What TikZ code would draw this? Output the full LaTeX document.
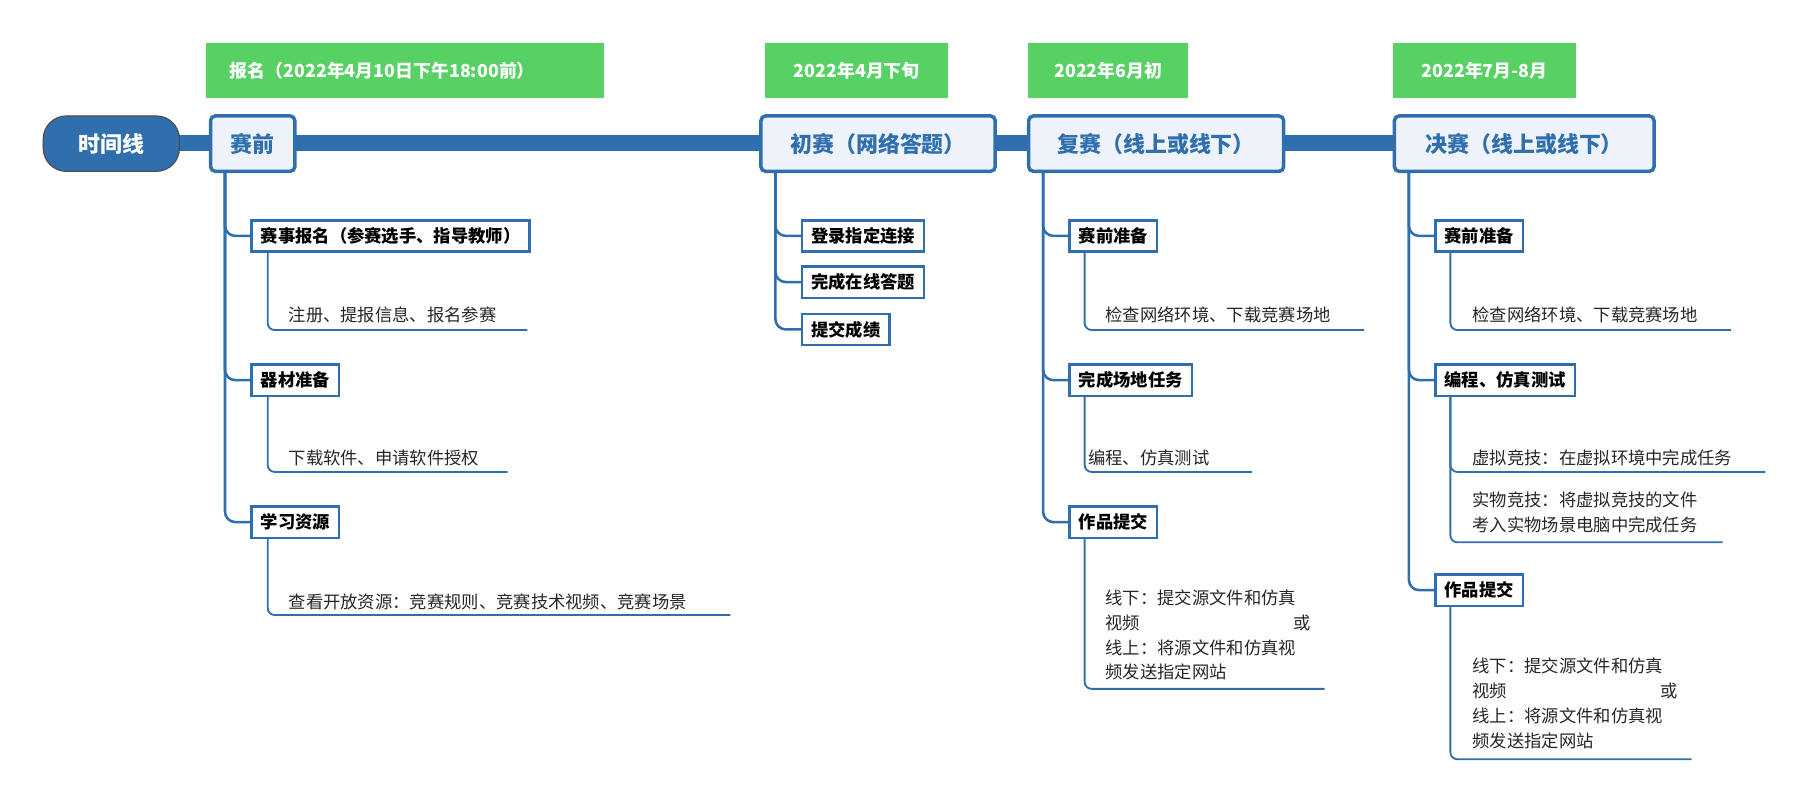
\documentclass[tikz,border=0pt]{standalone}
\usepackage{fontspec}
\setmainfont{Noto Sans CJK SC}
\newfontfamily\cjkb{Noto Sans CJK SC Bold}
\definecolor{mblue}{HTML}{2F6FAE}
\definecolor{mgreen}{HTML}{57D163}
\definecolor{mfill}{HTML}{EEF3FB}
\begin{document}
\begin{tikzpicture}[x=1pt,y=-1pt,
 grn/.style={fill=mgreen,text=white,font=\bfseries\fontsize{15.5}{18}\selectfont,anchor=west,inner sep=0pt,minimum height=48pt,align=left},
 mainbox/.style={draw=mblue,line width=3pt,fill=mfill,rounded corners=4pt,text=mblue,font=\bfseries\fontsize{19}{22}\selectfont,anchor=north west,minimum height=48pt,inner xsep=10pt},
 child/.style={draw=mblue,line width=2pt,fill=white,font=\bfseries\fontsize{15}{18}\selectfont,anchor=north west,minimum height=27pt,inner xsep=8pt,inner ysep=0pt},
 leaf/.style={font=\fontsize{15}{21.5}\selectfont,anchor=west,inner sep=0pt,align=left,text=black!85},
 conn/.style={draw=mblue,line width=2.2pt,rounded corners=9pt},
 sub/.style={draw=mblue,line width=1.6pt,rounded corners=6pt}]
\useasboundingbox (0,0) rectangle (1560,692);
% main bar
\fill[mblue] (150,117) rectangle (1215,131);
% green labels
\node[grn,minimum width=345pt,text width=331pt] (g1) at (178,61) {\hspace*{14pt}报名（2022年4月10日下午18:00前）};
\node[grn,minimum width=159pt,align=center,anchor=center] (g2) at (742.5,61) {2022年4月下旬};
\node[grn,minimum width=139pt,align=center,anchor=center] (g3) at (960.5,61) {2022年6月初};
\node[grn,minimum width=159pt,align=center,anchor=center] (g4) at (1286.5,61) {2022年7月-8月};
% timeline node
\node[draw=black!70,line width=1pt,fill=mblue,rounded corners=20pt,text=white,font=\bfseries\fontsize{19}{22}\selectfont,minimum width=118pt,minimum height=48pt,anchor=north west] (tl) at (37,100) {时间线};
% main nodes
\node[mainbox,minimum width=73pt] (m1) at (181,99) {赛前};
\node[mainbox,minimum width=203pt] (m2) at (658,99) {初赛（网络答题）};
\node[mainbox,minimum width=221pt] (m3) at (890,99) {复赛（线上或线下）};
\node[mainbox,minimum width=225pt] (m4) at (1207,99) {决赛（线上或线下）};
% ---- 赛前
\coordinate (t1) at (195,148);
\node[child] (a1) at (217,190) {赛事报名（参赛选手、指导教师）};
\node[child] (a2) at (217,315) {器材准备};
\node[child] (a3) at (217,438) {学习资源};
\draw[conn] (t1) |- (a1.west); \draw[conn] (t1) |- (a2.west); \draw[conn] (t1) |- (a3.west);
\node[leaf] (a1t) at (250,273) {注册、提报信息、报名参赛};
\coordinate (a1e) at (457,286);
\draw[sub] (a1.south west -| 232,0) |- (a1e);
\node[leaf] (a2t) at (250,397) {下载软件、申请软件授权};
\coordinate (a2e) at (440,409);
\draw[sub] (a2.south west -| 232,0) |- (a2e);
\node[leaf] (a3t) at (250,522) {查看开放资源：竞赛规则、竞赛技术视频、竞赛场景};
\coordinate (a3e) at (633,533);
\draw[sub] (a3.south west -| 232,0) |- (a3e);
% ---- 初赛
\coordinate (t2) at (672,148);
\node[child] (b1) at (694,190) {登录指定连接};
\node[child] (b2) at (694,230) {完成在线答题};
\node[child] (b3) at (694,271) {提交成绩};
\draw[conn] (t2) |- (b1.west); \draw[conn] (t2) |- (b2.west); \draw[conn] (t2) |- (b3.west);
% ---- 复赛
\coordinate (t3) at (904,148);
\node[child] (c1) at (926,190) {赛前准备};
\node[child] (c2) at (926,315) {完成场地任务};
\node[child] (c3) at (926,438) {作品提交};
\draw[conn] (t3) |- (c1.west); \draw[conn] (t3) |- (c2.west); \draw[conn] (t3) |- (c3.west);
\node[leaf] (c1t) at (958,273) {检查网络环境、下载竞赛场地};
\coordinate (c1e) at (1182,286);
\draw[sub] (c1.south west -| 940,0) |- (c1e);
\node[leaf] (c2t) at (943,397) {编程、仿真测试};
\coordinate (c2e) at (1085,409);
\draw[sub] (c2.south west -| 940,0) |- (c2e);
\node[leaf,text width=178pt,anchor=north west] (c3t) at (958,511) {线下：提交源文件和仿真\\视频\hfill 或\hspace*{18pt}\\线上：将源文件和仿真视\\频发送指定网站};
\coordinate (c3e) at (1148,597);
\draw[sub] (c3.south west -| 940,0) |- (c3e);
% ---- 决赛
\coordinate (t4) at (1221,148);
\node[child] (d1) at (1243,190) {赛前准备};
\node[child] (d2) at (1243,315) {编程、仿真测试};
\node[child] (d3) at (1243,497) {作品提交};
\draw[conn] (t4) |- (d1.west); \draw[conn] (t4) |- (d2.west); \draw[conn] (t4) |- (d3.west);
\node[leaf] (d1t) at (1276,273) {检查网络环境、下载竞赛场地};
\coordinate (d1e) at (1500,286);
\draw[sub] (d1.south west -| 1257,0) |- (d1e);
\node[leaf] (d2t) at (1276,397) {虚拟竞技：在虚拟环境中完成任务};
\coordinate (d2e) at (1530,409);
\draw[sub] (d2.south west -| 1257,0) |- (d2e);
\node[leaf,anchor=north west] (d2u) at (1276,426) {实物竞技：将虚拟竞技的文件\\考入实物场景电脑中完成任务};
\coordinate (d2f) at (1493,470);
\draw[sub] (d2.south west -| 1257,0) |- (d2f);
\node[leaf,text width=178pt,anchor=north west] (d3t) at (1276,570) {线下：提交源文件和仿真\\视频\hfill 或\hspace*{18pt}\\线上：将源文件和仿真视\\频发送指定网站};
\coordinate (d3e) at (1466,658);
\draw[sub] (d3.south west -| 1257,0) |- (d3e);
\end{tikzpicture}
\end{document}
